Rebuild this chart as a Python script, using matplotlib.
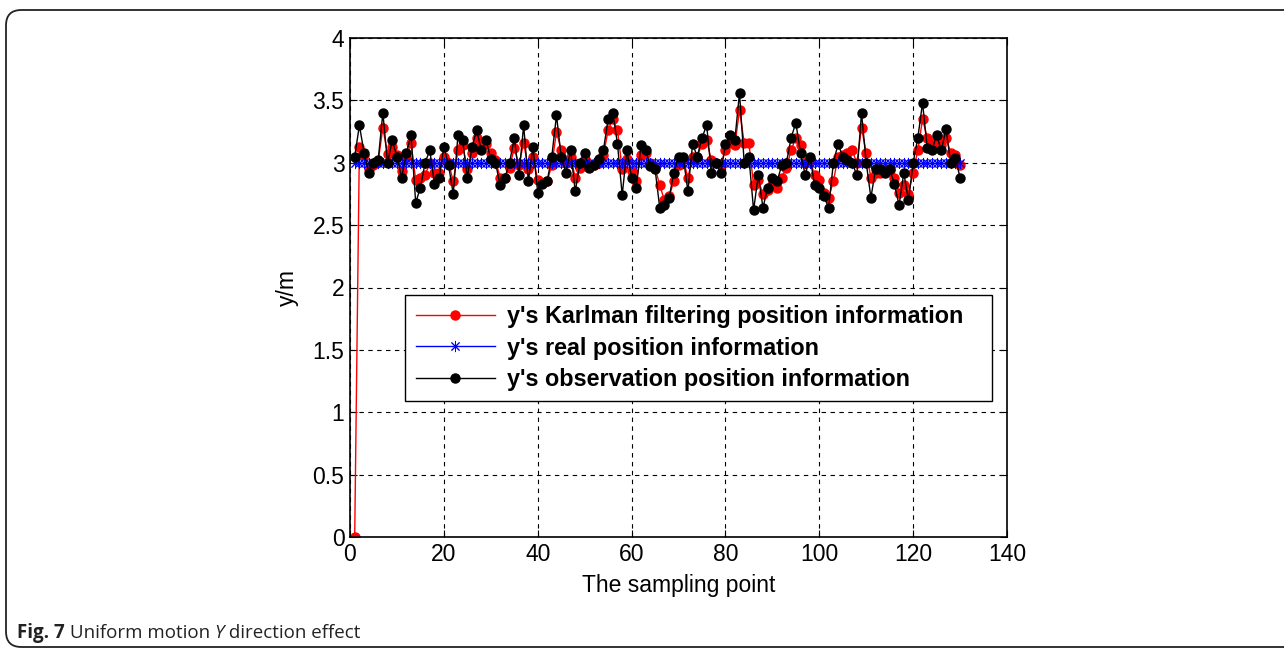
import numpy as np
import matplotlib
matplotlib.use("Agg")
import matplotlib.pyplot as plt
from matplotlib.patches import FancyBboxPatch

plt.rcParams['font.family'] = ['Liberation Sans', 'DejaVu Sans']

# sampling points 1..130
sample = np.arange(1, 131)

observed = [
    3.05, 3.30, 3.08, 2.92, 3.00, 3.02, 3.40, 3.00, 3.18, 3.05,
    2.88, 3.08, 3.22, 2.68, 2.80, 3.00, 3.10, 2.83, 2.88, 3.13,
    2.98, 2.75, 3.22, 3.18, 2.88, 3.13, 3.26, 3.10, 3.18, 3.03,
    3.00, 2.82, 2.88, 3.00, 3.20, 2.90, 3.30, 2.85, 3.13, 2.76,
    2.83, 2.85, 3.05, 3.38, 3.05, 2.92, 3.10, 2.77, 3.00, 3.08,
    2.96, 2.98, 3.03, 3.10, 3.35, 3.40, 3.15, 2.74, 3.10, 2.88,
    2.80, 3.14, 3.10, 2.97, 2.95, 2.64, 2.66, 2.72, 2.92, 3.05,
    3.05, 2.77, 3.15, 3.05, 3.20, 3.30, 2.92, 3.00, 2.92, 3.15,
    3.22, 3.18, 3.56, 3.00, 3.05, 2.62, 2.90, 2.64, 2.80, 2.88,
    2.85, 2.98, 3.00, 3.20, 3.32, 3.08, 2.90, 3.05, 2.82, 2.80,
    2.73, 2.64, 3.00, 3.15, 3.05, 3.02, 3.00, 2.90, 3.40, 3.00,
    2.72, 2.95, 2.95, 2.92, 2.95, 2.83, 2.66, 2.92, 2.70, 3.00,
    3.20, 3.48, 3.12, 3.10, 3.22, 3.10, 3.27, 3.00, 3.04, 2.88,
]

kalman = [
    0.00, 3.13, 3.06, 2.95, 2.98, 3.01, 3.28, 3.07, 3.13, 3.06,
    2.93, 3.05, 3.16, 2.86, 2.88, 2.90, 3.00, 2.92, 2.92, 3.05,
    3.00, 2.85, 3.10, 3.14, 2.95, 3.08, 3.20, 3.14, 3.15, 3.08,
    3.02, 2.88, 2.88, 2.96, 3.12, 2.98, 3.16, 2.95, 3.05, 2.86,
    2.84, 2.85, 2.98, 3.25, 3.10, 3.00, 3.05, 2.88, 2.96, 3.03,
    2.98, 2.98, 3.00, 3.06, 3.26, 3.35, 3.26, 2.95, 3.03, 2.93,
    2.85, 3.06, 3.08, 3.00, 2.96, 2.82, 2.70, 2.73, 2.85, 2.98,
    3.03, 2.88, 3.05, 3.05, 3.15, 3.18, 3.02, 3.00, 2.98, 3.10,
    3.16, 3.14, 3.42, 3.16, 3.16, 2.82, 2.86, 2.75, 2.78, 2.82,
    2.80, 2.88, 2.96, 3.10, 3.20, 3.14, 3.00, 3.02, 2.90, 2.86,
    2.76, 2.72, 2.85, 3.05, 3.06, 3.08, 3.10, 3.00, 3.28, 3.08,
    2.88, 2.92, 2.92, 2.95, 2.94, 2.88, 2.76, 2.82, 2.75, 2.92,
    3.10, 3.35, 3.20, 3.15, 3.20, 3.14, 3.20, 3.08, 3.06, 2.98,
]

real = [3.0] * 130

fig = plt.figure(figsize=(12.84, 6.49), dpi=100)

# rounded frame around the figure
frame = FancyBboxPatch((6 / 1284, 2 / 649), 1.1, 637 / 649,
                       boxstyle="round,pad=0,rounding_size=0.012",
                       transform=fig.transFigure, fill=False,
                       edgecolor="#222222", linewidth=1.3,
                       mutation_aspect=1284 / 649)
fig.patches.append(frame)

ax = fig.add_axes([350 / 1284, 112 / 649, 657 / 1284, 499 / 649])

ax.plot(sample, kalman, color="red", marker="o", markersize=6.5, linewidth=1,
        label="y's Karlman filtering position information")
ax.plot(sample, real, color="blue", marker=(8, 2, 0), markersize=8,
        markeredgewidth=0.7, linewidth=1,
        label="y's real position information")
ax.plot(sample, observed, color="black", marker="o", markersize=6.5, linewidth=1,
        label="y's observation position information")

ax.set_xlim(0, 140)
ax.set_ylim(0, 4)
ax.set_xticks(np.arange(0, 141, 20))
ax.set_yticks(np.arange(0, 4.01, 0.5))
ax.set_yticklabels(["0", "0.5", "1", "1.5", "2", "2.5", "3", "3.5", "4"])
ax.grid(True, color="black", linestyle=(0, (4, 4)), linewidth=0.8)
ax.tick_params(direction="in", labelsize=16.5, top=True, right=True, length=5,
               pad=4)
for s in ax.spines.values():
    s.set_linewidth(1.2)

ax.set_xlabel("The sampling point", fontsize=16.5, labelpad=6)
ax.set_ylabel("y/m", fontsize=16.5, labelpad=10)

leg = ax.legend(loc="upper left", bbox_to_anchor=(0.084, 0.2685, 0.893, 0.2165),
                mode="expand", borderaxespad=0,
                prop={"weight": "bold", "size": 16.8}, handlelength=3.4,
                fancybox=False, framealpha=1, edgecolor="black",
                borderpad=0.45, labelspacing=0.35, handletextpad=0.5)
leg.get_frame().set_linewidth(1.0)

# caption, pieces placed one after another
cap_kw = dict(fontsize=13.5, family="Open Sans", color="#222222", va="baseline")
base_y = 1 - 638 / 649
pieces = [("Fig. 7", dict(fontweight="bold")),
          (" Uniform motion ", {}),
          ("Y", dict(style="italic")),
          (" direction effect", {})]
renderer = fig.canvas.get_renderer()
x = 17 / 1284
for txt, extra in pieces:
    t = fig.text(x, base_y, txt, **cap_kw, **extra)
    bb = t.get_window_extent(renderer)
    x += bb.width / 1284

fig.savefig("out.png", dpi=100)
